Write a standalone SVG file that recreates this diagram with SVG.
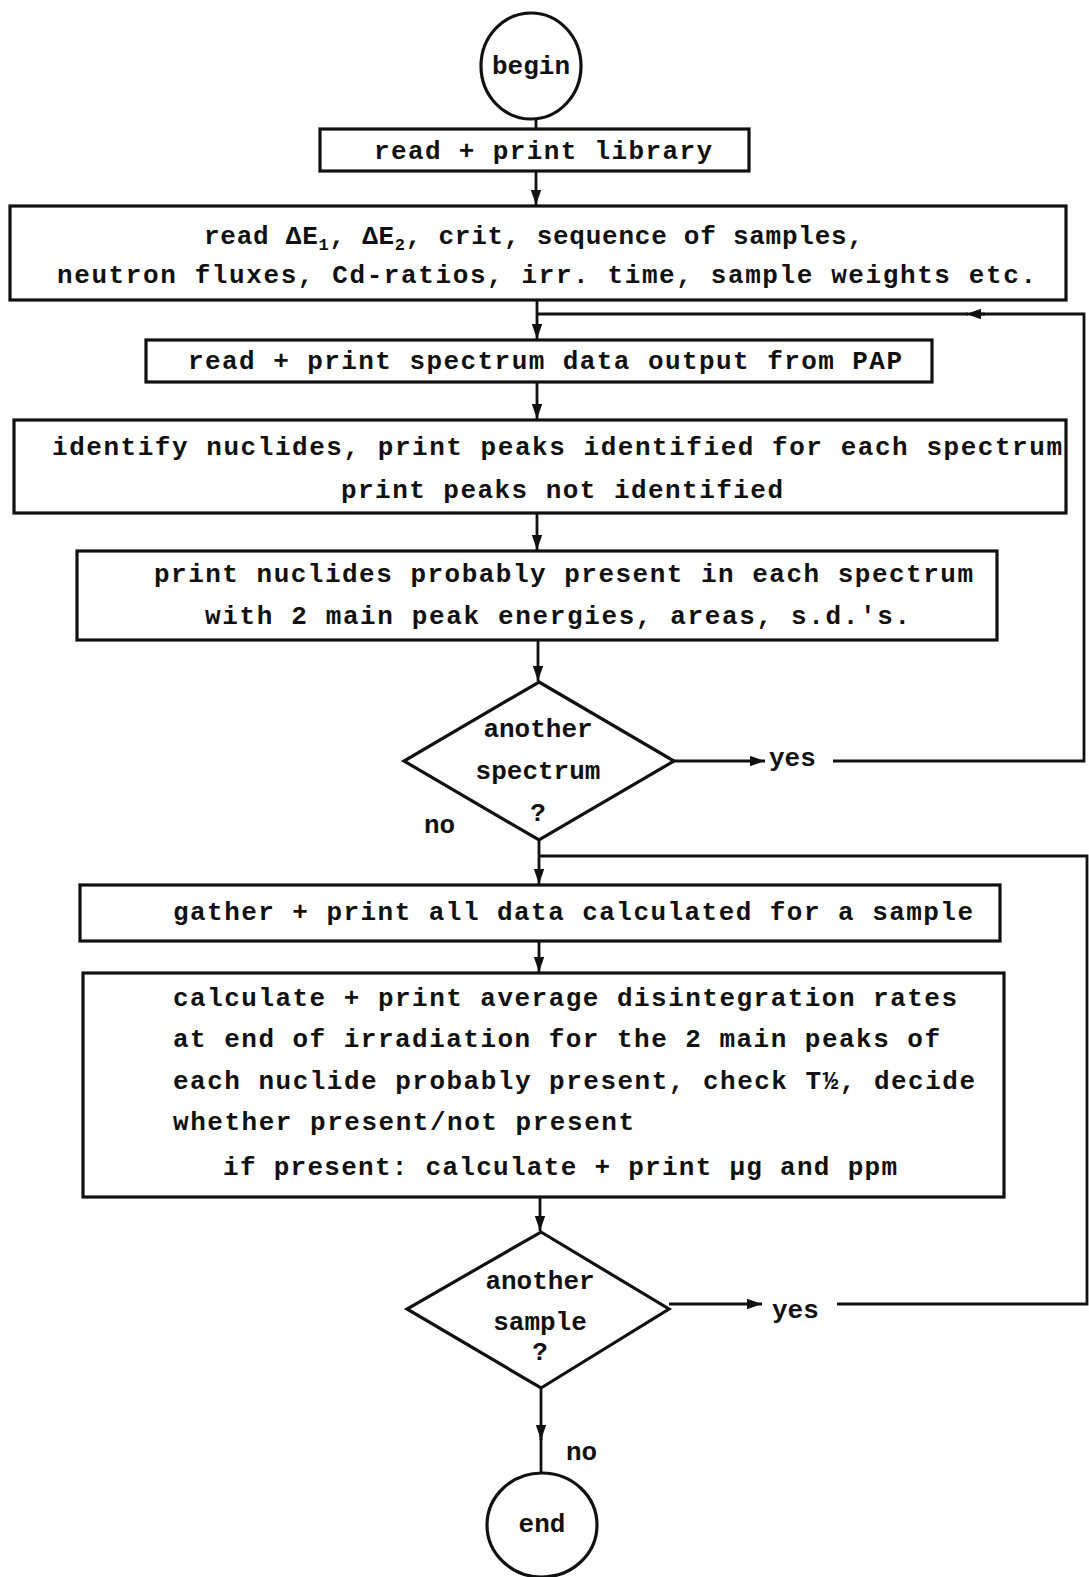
<svg xmlns="http://www.w3.org/2000/svg" width="1089" height="1577" viewBox="0 0 1089 1577">
<defs>
<style>
.box{fill:#fff;stroke:#111;stroke-width:3.2}
.ln{fill:none;stroke:#111;stroke-width:2.8}
.t{font-family:"Liberation Mono","DejaVu Sans Mono",monospace;font-weight:bold;font-size:26px;fill:#111}
.c{text-anchor:middle}
</style>
<marker id="ah" viewBox="0 0 10 10" refX="10" refY="5" markerWidth="5.5" markerHeight="3.8" markerUnits="strokeWidth" orient="auto" preserveAspectRatio="none">
<path d="M0,0 L10,5 L0,10 z" fill="#111"/>
</marker>
</defs>
<rect width="1089" height="1577" fill="#fff"/>
<g id="connectors">
<line class="ln" x1="536" y1="119" x2="536" y2="129"/>
<line class="ln" x1="536" y1="171" x2="536" y2="205" marker-end="url(#ah)"/>
<line class="ln" x1="537" y1="300" x2="537" y2="339" marker-end="url(#ah)"/>
<line class="ln" x1="537" y1="382" x2="537" y2="419" marker-end="url(#ah)"/>
<line class="ln" x1="537" y1="513" x2="537" y2="550" marker-end="url(#ah)"/>
<line class="ln" x1="538" y1="640" x2="538" y2="681" marker-end="url(#ah)"/>
<line class="ln" x1="539" y1="840" x2="539" y2="884" marker-end="url(#ah)"/>
<line class="ln" x1="539" y1="941" x2="539" y2="972" marker-end="url(#ah)"/>
<line class="ln" x1="540" y1="1197" x2="540" y2="1231" marker-end="url(#ah)"/>
<line class="ln" x1="541" y1="1388" x2="541" y2="1440" marker-end="url(#ah)"/>
<line class="ln" x1="541" y1="1436" x2="541" y2="1473"/>
<line class="ln" x1="674" y1="761" x2="765" y2="761" marker-end="url(#ah)"/>
<polyline class="ln" points="833,761 1084,761 1084,314 975,314"/>
<line class="ln" x1="985" y1="314" x2="966" y2="314" marker-end="url(#ah)"/>
<line class="ln" x1="968" y1="314" x2="537" y2="314"/>
<line class="ln" x1="669" y1="1304" x2="762" y2="1304" marker-end="url(#ah)"/>
<polyline class="ln" points="837,1304 1087,1304 1087,856 539,856"/>
</g>
<g id="begin">
<ellipse class="box" cx="531" cy="66" rx="50" ry="53"/>
<text class="t c" x="531" y="74">begin</text>
</g>
<g id="read-library">
<rect class="box" x="320" y="129" width="429" height="42"/>
<text class="t" x="374" y="159" textLength="338" lengthAdjust="spacing">read + print library</text>
</g>
<g id="read-params">
<rect class="box" x="10" y="206" width="1056" height="94"/>
<text class="t" x="204" y="244" textLength="659" lengthAdjust="spacing">read ΔE<tspan font-size="17" dy="6">1</tspan><tspan dy="-6">, ΔE</tspan><tspan font-size="17" dy="6">2</tspan><tspan dy="-6">, crit, sequence of samples,</tspan></text>
<text class="t" x="57" y="283" textLength="979" lengthAdjust="spacing">neutron fluxes, Cd-ratios, irr. time, sample weights etc.</text>
</g>
<g id="read-spectrum">
<rect class="box" x="146" y="340" width="786" height="42"/>
<text class="t" x="188" y="369" textLength="714" lengthAdjust="spacing">read + print spectrum data output from PAP</text>
</g>
<g id="identify">
<rect class="box" x="14" y="420" width="1052" height="93"/>
<text class="t" x="52" y="455" textLength="1010" lengthAdjust="spacing">identify nuclides, print peaks identified for each spectrum</text>
<text class="t" x="341" y="498" textLength="442" lengthAdjust="spacing">print peaks not identified</text>
</g>
<g id="print-nuclides">
<rect class="box" x="77" y="551" width="920" height="89"/>
<text class="t" x="154" y="582" textLength="819" lengthAdjust="spacing">print nuclides probably present in each spectrum</text>
<text class="t" x="205" y="624" textLength="705" lengthAdjust="spacing">with 2 main peak  energies, areas, s.d.'s.</text>
</g>
<g id="another-spectrum">
<polygon class="box" points="539,682 674,761 539,840 404,761"/>
<text class="t c" x="538" y="737">another</text>
<text class="t c" x="538" y="779">spectrum</text>
<text class="t c" x="538" y="821">?</text>
<text class="t" x="769" y="766">yes</text>
<text class="t" x="424" y="833">no</text>
</g>
<g id="gather">
<rect class="box" x="80" y="885" width="920" height="56"/>
<text class="t" x="173" y="920" textLength="800" lengthAdjust="spacing">gather + print all data calculated for a sample</text>
</g>
<g id="calculate">
<rect class="box" x="83" y="973" width="921" height="224"/>
<text class="t" x="173" y="1006" textLength="784" lengthAdjust="spacing">calculate + print average disintegration rates</text>
<text class="t" x="173" y="1047" textLength="767" lengthAdjust="spacing">at end of irradiation for the 2 main peaks of</text>
<text class="t" x="173" y="1089" textLength="802" lengthAdjust="spacing">each nuclide probably present, check T½, decide</text>
<text class="t" x="173" y="1130" textLength="461" lengthAdjust="spacing">whether present/not present</text>
<text class="t" x="223" y="1175" textLength="674" lengthAdjust="spacing">if present: calculate + print  μg and ppm</text>
</g>
<g id="another-sample">
<polygon class="box" points="541,1232 669,1309 541,1388 407,1309"/>
<text class="t c" x="540" y="1289">another</text>
<text class="t c" x="540" y="1330">sample</text>
<text class="t c" x="540" y="1360">?</text>
<text class="t" x="772" y="1318">yes</text>
<text class="t" x="566" y="1460">no</text>
</g>
<g id="end">
<ellipse class="box" cx="542" cy="1525" rx="55" ry="52"/>
<text class="t c" x="542" y="1532">end</text>
</g>
</svg>
